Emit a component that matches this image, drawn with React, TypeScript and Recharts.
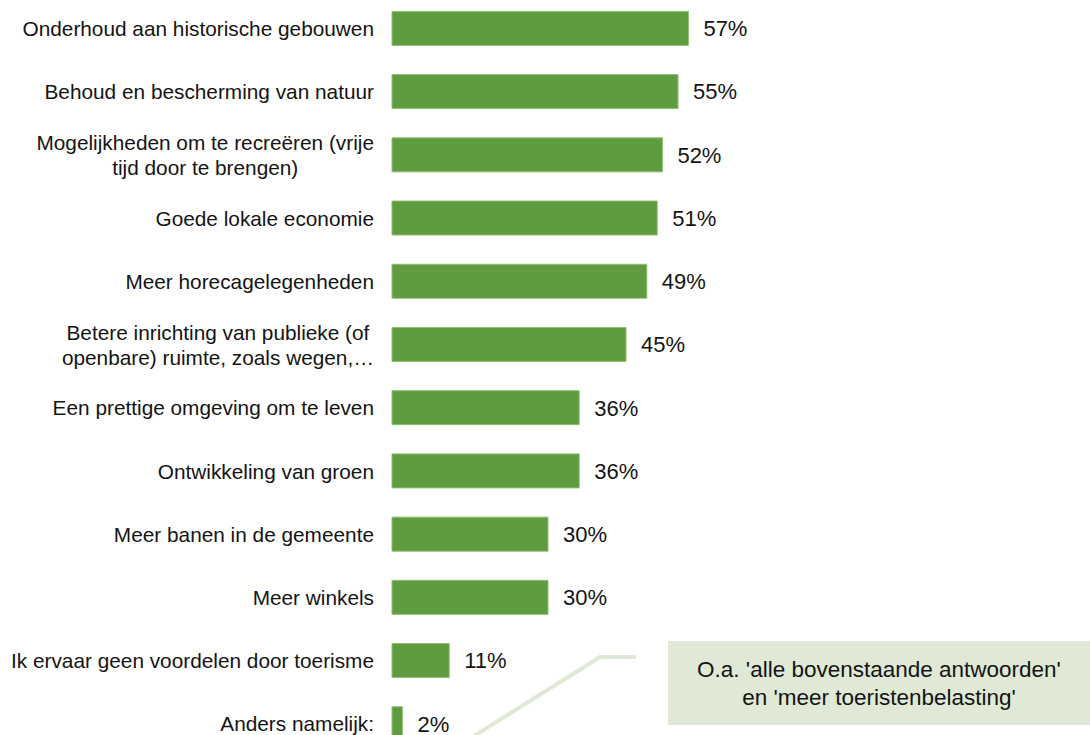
import { BarChart, Bar, XAxis, YAxis, LabelList } from "recharts";

const categories = [
  "Onderhoud aan historische gebouwen",
  "Behoud en bescherming van natuur",
  "Mogelijkheden om te recreëren (vrije\ntijd door te brengen)",
  "Goede lokale economie",
  "Meer horecagelegenheden",
  "Betere inrichting van publieke (of\nopenbare) ruimte, zoals wegen,…",
  "Een prettige omgeving om te leven",
  "Ontwikkeling van groen",
  "Meer banen in de gemeente",
  "Meer winkels",
  "Ik ervaar geen voordelen door toerisme",
  "Anders namelijk:",
];

const percentages = [57, 55, 52, 51, 49, 45, 36, 36, 30, 30, 11, 2];

const noteLines = ["O.a. 'alle bovenstaande antwoorden'", "en 'meer toeristenbelasting'"];

const FONT = "'Liberation Sans', Arial, sans-serif";
const TEXT_COLOR = "#141414";
const BAR_COLOR = "#5f9b3f";
const NOTE_COLOR = "#dfe9d5";

const data = categories.map((name, i) => ({ name, value: percentages[i] }));

let ctx: CanvasRenderingContext2D | null = null;
function measure(text: string, size: number) {
  if (!ctx) ctx = document.createElement("canvas").getContext("2d");
  if (!ctx) return text.length * size * 0.5;
  ctx.font = `${size}px ${FONT}`;
  return ctx.measureText(text).width;
}

const LABEL_SIZE = 20.8;
const LINE_H = 25;

function CategoryTick(props: any) {
  const { x, y, payload } = props;
  const lines = String(payload.value).split("\n");
  const widest = Math.max(...lines.map((l) => measure(l, LABEL_SIZE)));
  const cx = x - widest / 2;
  const startY = y - ((lines.length - 1) * LINE_H) / 2;
  return (
    <text
      x={cx}
      y={startY}
      textAnchor="middle"
      fontFamily={FONT}
      fontSize={LABEL_SIZE}
      fill={TEXT_COLOR}
      dominantBaseline="central"
    >
      {lines.map((l, i) => (
        <tspan key={i} x={cx} y={startY + i * LINE_H}>
          {l}
        </tspan>
      ))}
    </text>
  );
}

export default function App() {
  return (
    <div style={{ position: "fixed", left: 0, top: 0, width: 1090, height: 735, overflow: "hidden", background: "#fff" }}>
      <div style={{ position: "absolute", left: 0, top: -10 }}>
        <BarChart
          width={1090}
          height={765}
          data={data}
          layout="vertical"
          margin={{ top: 6.4, right: 178, bottom: 0, left: 0 }}
        >
          <XAxis type="number" domain={[0, 100]} hide />
          <YAxis
            type="category"
            dataKey="name"
            width={392}
            axisLine={false}
            tickLine={false}
            tickSize={0}
            tickMargin={18}
            interval={0}
            tick={<CategoryTick />}
          />
          <Bar
            dataKey="value"
            fill={BAR_COLOR}
            stroke="#8fbd74"
            strokeWidth={1}
            barSize={34}
            isAnimationActive={false}
          >
            <LabelList
              dataKey="value"
              position="right"
              offset={15}
              formatter={(v: any) => `${v}%`}
              fill={TEXT_COLOR}
              fontSize={22}
              fontFamily={FONT}
            />
          </Bar>
        </BarChart>
      </div>
      <svg
        width={1090}
        height={735}
        style={{ position: "absolute", left: 0, top: 0, pointerEvents: "none" }}
      >
        <polyline
          points="474,736 600,657 636,657"
          fill="none"
          stroke={NOTE_COLOR}
          strokeWidth={4}
        />
        <rect x={668} y={641} width={422} height={84} fill={NOTE_COLOR} />
        {noteLines.map((l, i) => (
          <text
            key={i}
            x={879}
            y={669 + i * 28}
            textAnchor="middle"
            dominantBaseline="central"
            fontFamily={FONT}
            fontSize={22.5}
            fill={TEXT_COLOR}
          >
            {l}
          </text>
        ))}
      </svg>
    </div>
  );
}
